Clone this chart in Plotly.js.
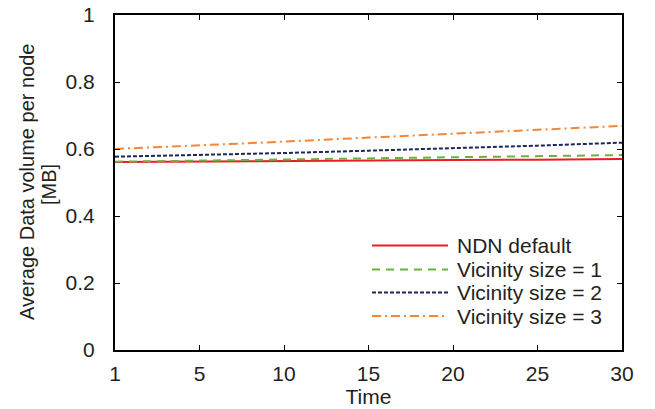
<!DOCTYPE html>
<html>
<head>
<meta charset="utf-8">
<script src="https://cdn.plot.ly/plotly-3.0.1.min.js"></script>
<style>html,body{margin:0;padding:0;background:#fff;}#chart{width:655px;height:409px;}</style>
</head>
<body>
<div id="chart"></div>
<script>
const timeLabels = ['1', '5', '10', '15', '20', '25', '30'];
const ndnDefault = [0.561, 0.563, 0.564, 0.566, 0.567, 0.568, 0.570];
const vicinity1 = [0.562, 0.565, 0.568, 0.572, 0.575, 0.578, 0.582];
const vicinity2 = [0.577, 0.582, 0.588, 0.595, 0.602, 0.610, 0.619];
const vicinity3 = [0.600, 0.610, 0.622, 0.634, 0.646, 0.657, 0.669];
const seriesNames = ['NDN default', 'Vicinity size = 1', 'Vicinity size = 2', 'Vicinity size = 3'];
const yTitleLines = ['Average Data volume per node', '[MB]'];

const xs = timeLabels.map((_, i) => i);
const styles = [
  {color: '#ed1c24', width: 2, dash: 'solid'},
  {color: '#6ab23e', width: 2, dash: '8px,6px'},
  {color: '#1c2857', width: 2, dash: '4px,2px'},
  {color: '#f58634', width: 2, dash: '9px,4px,2px,4px'}
];
const data = [ndnDefault, vicinity1, vicinity2, vicinity3].map((ys, k) => ({
  x: xs, y: ys, type: 'scatter', mode: 'lines', name: seriesNames[k], line: styles[k], showlegend: false
}));

const font = {family: 'Liberation Sans, Arial, sans-serif', color: '#231f20'};

const plotL = 115, plotR = 622, plotT = 15, plotB = 350;
const px = v => (v - plotL) / (plotR - plotL);
const py = v => (plotB - v) / (plotB - plotT);
const legendRows = [245.5, 269.5, 292.5, 316];
const shapes = [], annotations = [];
seriesNames.forEach((nm, k) => {
  shapes.push({type: 'line', xref: 'paper', yref: 'paper', x0: px(372), x1: px(448),
               y0: py(legendRows[k]), y1: py(legendRows[k]), line: styles[k]});
  annotations.push({xref: 'paper', yref: 'paper', x: px(455), y: py(legendRows[k]),
                    xanchor: 'left', yanchor: 'middle', showarrow: false, text: nm,
                    font: Object.assign({size: 21}, font)});
});
// y-axis title (two lines, tight spacing as in the reference)
annotations.push({xref: 'paper', yref: 'paper', x: px(27), y: py(182), xanchor: 'center', yanchor: 'middle',
                  textangle: -90, showarrow: false, text: yTitleLines[0], font: Object.assign({size: 20}, font)});
annotations.push({xref: 'paper', yref: 'paper', x: px(49), y: py(185), xanchor: 'center', yanchor: 'middle',
                  textangle: -90, showarrow: false, text: yTitleLines[1], font: Object.assign({size: 20}, font)});

const layout = {
  width: 655, height: 409,
  margin: {l: 115, r: 33, t: 15, b: 59},
  paper_bgcolor: '#fff', plot_bgcolor: '#fff',
  font: Object.assign({size: 21}, font),
  showlegend: false,
  shapes: shapes, annotations: annotations,
  xaxis: {
    range: [0, 6], tickvals: xs, ticktext: timeLabels,
    showgrid: false, zeroline: false, showline: true, linecolor: '#000', linewidth: 2,
    mirror: 'ticks', ticks: 'inside', ticklen: 5, tickcolor: '#000', tickwidth: 1,
    tickfont: Object.assign({size: 21}, font), ticklabelstandoff: 4,
    title: {text: 'Time', font: Object.assign({size: 21}, font), standoff: 0}
  },
  yaxis: {
    range: [0, 1], tickvals: [0, 0.2, 0.4, 0.6, 0.8, 1], ticktext: ['0', '0.2', '0.4', '0.6', '0.8', '1'],
    showgrid: false, zeroline: false, showline: true, linecolor: '#000', linewidth: 2,
    mirror: 'ticks', ticks: 'inside', ticklen: 5, tickcolor: '#000', tickwidth: 1,
    tickfont: Object.assign({size: 21}, font), ticklabelstandoff: 14
  }
};
Plotly.newPlot('chart', data, layout, {displayModeBar: false, staticPlot: true});
</script>
</body>
</html>
